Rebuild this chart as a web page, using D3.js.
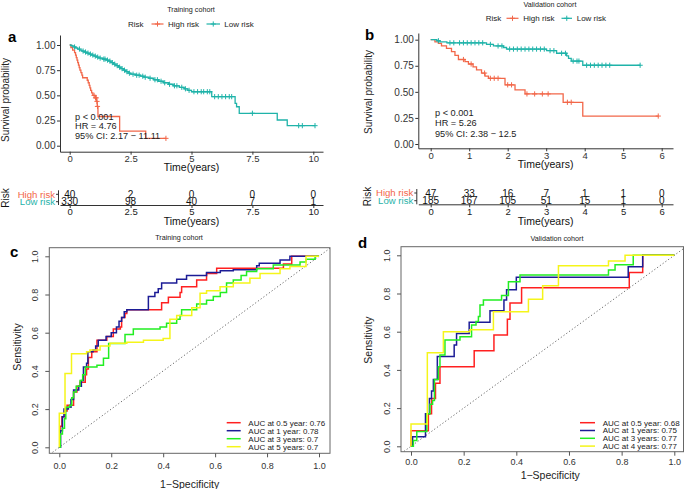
<!DOCTYPE html>
<html><head><meta charset="utf-8">
<script src="https://cdn.jsdelivr.net/npm/d3@7"></script>
<style>body{margin:0;background:#fff}</style>
</head><body><script>
// ---------------- DATA ----------------
// Panel a (training cohort KM)
const trainHighTime = [0,0.05,0.12,0.2,0.24,0.27,0.3,0.33,0.36,0.39,0.42,0.46,0.5,0.53,0.72,0.76,0.8,0.83,0.86,0.9,0.95,1.04,1.1,1.13,1.16,2.05,3.12,3.95];
const trainHighSurv = [1,0.975,0.95,0.925,0.9,0.875,0.85,0.825,0.8,0.775,0.75,0.725,0.7,0.675,0.65,0.625,0.6,0.575,0.55,0.525,0.5,0.475,0.44,0.39,0.29,0.145,0.073,0.073];
const trainHighCens = [1.0,1.06,1.09,1.12,1.14,3.95];
const trainLowTime = [0,0.05,0.1,0.18,0.25,0.33,0.42,0.5,0.6,0.7,0.8,0.9,1.0,1.1,1.2,1.35,1.5,1.6,1.7,1.8,1.9,2.0,2.1,2.2,2.3,2.4,2.5,2.7,2.9,3.05,3.25,3.45,3.65,3.85,4.05,4.25,4.5,4.7,4.85,5.0,5.83,6.79,6.85,6.96,8.52,8.93,10.07];
const trainLowSurv = [1,0.995,0.99,0.98,0.97,0.96,0.95,0.94,0.93,0.92,0.91,0.9,0.89,0.88,0.87,0.86,0.85,0.84,0.825,0.81,0.795,0.78,0.765,0.75,0.735,0.72,0.71,0.7,0.69,0.68,0.67,0.655,0.64,0.625,0.61,0.595,0.58,0.565,0.55,0.536,0.487,0.42,0.387,0.322,0.255,0.199,0.199];
const trainLowCens = [0.2,0.4,0.55,0.65,0.75,0.85,0.95,1.05,1.15,1.25,1.4,1.45,1.55,1.65,1.75,1.85,1.95,2.05,2.15,2.25,2.35,2.45,2.6,2.75,2.85,3.0,3.1,3.3,3.5,3.6,3.75,3.9,4.1,4.3,4.4,4.6,4.75,4.9,5.1,5.25,5.4,5.5,5.65,5.75,5.95,6.1,6.25,6.4,6.55,6.65,7.5,9.4,9.55,10.07];
const trainTimeTicks = [0,2.5,5,7.5,10];
const trainRiskHigh = [40,2,0,0,0];
const trainRiskLow = [330,98,40,7,1];
const trainStats = ["p < 0.001","HR = 4.76","95% CI: 2.17 \u2212 11.11"];

// Panel b (validation cohort KM)
const validHighTime = [0,0.11,0.2,0.28,0.41,0.54,0.63,0.72,0.89,0.98,1.1,1.19,1.32,1.41,1.5,1.93,2.19,2.45,3.44,3.95,5.91];
const validHighSurv = [1,0.98,0.965,0.94,0.917,0.885,0.85,0.81,0.79,0.767,0.74,0.71,0.68,0.65,0.63,0.567,0.518,0.48,0.40,0.268,0.268];
const validHighCens = [0.85,1.05,1.4,1.55,1.65,1.75,2.0,2.1,2.5,2.7,2.9,3.05,3.55,3.65,5.91];
const validLowTime = [0,0.16,0.24,0.42,1.45,1.63,1.89,1.97,3.01,3.27,3.53,3.58,3.65,3.95,5.44];
const validLowSurv = [1,0.99,0.98,0.97,0.955,0.94,0.925,0.91,0.895,0.87,0.845,0.82,0.795,0.755,0.755];
const validLowCens = [0.2,0.5,0.6,0.75,0.85,0.95,1.05,1.15,1.25,1.35,1.55,1.75,1.85,2.05,2.15,2.25,2.35,2.45,2.55,2.65,2.75,2.85,2.95,3.1,3.2,3.4,3.5,3.7,3.8,3.85,4.05,4.15,4.25,4.35,4.45,4.55,4.65,5.44];
const validTimeTicks = [0,1,2,3,4,5,6];
const validRiskHigh = [47,33,16,7,1,1,0];
const validRiskLow = [185,167,105,51,15,1,0];
const validStats = ["p < 0.001","HR = 5.26","95% CI: 2.38 \u2212 12.5"];

const survTicks = [0,0.25,0.5,0.75,1];
const riskGroups = ["High risk","Low risk"];

// Panel c (training ROC)
const trainRoc05 = [[0,0],[0.003,0.11],[0.01,0.16],[0.022,0.19],[0.03,0.22],[0.055,0.29],[0.068,0.32],[0.08,0.34],[0.1,0.38],[0.105,0.41],[0.112,0.47],[0.125,0.5],[0.145,0.56],[0.183,0.58],[0.208,0.62],[0.235,0.63],[0.24,0.68],[0.253,0.7],[0.26,0.72],[0.394,0.757],[0.42,0.785],[0.465,0.81],[0.471,0.84],[0.529,0.876],[0.567,0.91],[0.606,0.937],[0.863,0.96],[0.895,1.0],[1,1]];
const trainRoc1 = [[0,0],[0.005,0.087],[0.012,0.16],[0.018,0.2],[0.035,0.21],[0.045,0.25],[0.055,0.3],[0.075,0.32],[0.085,0.35],[0.093,0.42],[0.105,0.44],[0.11,0.5],[0.13,0.51],[0.14,0.53],[0.15,0.56],[0.18,0.58],[0.2,0.6],[0.22,0.63],[0.23,0.66],[0.24,0.68],[0.25,0.71],[0.26,0.72],[0.343,0.79],[0.368,0.81],[0.381,0.83],[0.394,0.86],[0.452,0.88],[0.49,0.9],[0.567,0.915],[0.62,0.925],[0.67,0.93],[0.76,0.95],[0.77,0.963],[0.85,0.98],[0.888,1.0],[1,1]];
const trainRoc3 = [[0,0],[0.004,0.07],[0.012,0.1],[0.02,0.15],[0.025,0.21],[0.04,0.22],[0.048,0.26],[0.055,0.29],[0.065,0.32],[0.08,0.35],[0.09,0.38],[0.1,0.42],[0.145,0.43],[0.17,0.466],[0.19,0.544],[0.253,0.59],[0.285,0.62],[0.388,0.63],[0.413,0.65],[0.452,0.67],[0.465,0.69],[0.471,0.72],[0.529,0.75],[0.567,0.77],[0.593,0.79],[0.62,0.81],[0.644,0.86],[0.67,0.876],[0.7,0.9],[0.721,0.92],[0.76,0.935],[0.824,0.955],[0.927,0.97],[0.95,0.985],[0.985,1.0],[1,1]];
const trainRoc5 = [[0,0],[0,0.178],[0.022,0.387],[0.047,0.49],[0.105,0.5],[0.118,0.51],[0.157,0.53],[0.195,0.545],[0.26,0.55],[0.324,0.56],[0.4,0.57],[0.426,0.67],[0.452,0.69],[0.51,0.73],[0.542,0.806],[0.567,0.82],[0.619,0.84],[0.67,0.86],[0.734,0.885],[0.773,0.91],[0.85,0.935],[0.888,0.946],[0.95,1.0],[1,1]];
const trainRocLabels = ["AUC at 0.5 year: 0.76","AUC at 1 year: 0.78","AUC at 3 years: 0.7","AUC at 5 years: 0.7"];

// Panel d (validation ROC)
const validRoc05 = [[0,0],[0,0.082],[0.066,0.17],[0.078,0.25],[0.093,0.33],[0.11,0.417],[0.24,0.5],[0.315,0.583],[0.366,0.665],[0.376,0.75],[0.42,0.83],[0.829,0.91],[0.88,1.0],[1,1]];
const validRoc1 = [[0,0],[0.006,0.05],[0.055,0.17],[0.07,0.25],[0.078,0.29],[0.085,0.35],[0.1,0.47],[0.164,0.53],[0.173,0.59],[0.221,0.65],[0.3,0.71],[0.353,0.766],[0.363,0.82],[0.4,0.885],[0.825,0.94],[0.88,1.0],[1,1]];
const validRoc3 = [[0,0],[0.009,0.03],[0.022,0.077],[0.06,0.17],[0.072,0.22],[0.082,0.24],[0.089,0.35],[0.104,0.417],[0.11,0.478],[0.129,0.557],[0.186,0.574],[0.23,0.635],[0.247,0.653],[0.256,0.68],[0.262,0.74],[0.275,0.766],[0.344,0.79],[0.37,0.862],[0.414,0.897],[0.75,0.923],[0.775,0.95],[0.844,1.0],[1,1]];
const validRoc4 = [[0,0],[0,0.117],[0.062,0.49],[0.123,0.6],[0.224,0.61],[0.313,0.705],[0.446,0.77],[0.5,0.84],[0.56,0.945],[0.75,0.97],[0.813,1.0],[1,1]];
const validRocLabels = ["AUC at 0.5 year: 0.68","AUC at 1 years: 0.75","AUC at 3 years: 0.77","AUC at 4 years: 0.77"];

const rocTicks = [0,0.2,0.4,0.6,0.8,1.0];
const rocColors = ["#FF2020","#1C1C96","#22EE22","#F5F51A"];
const kmRed = "#F26749", kmTeal = "#1FB3A9";

// ---------------- DRAW ----------------
const FONT = "'Liberation Sans', Arial, Helvetica, sans-serif";
const svg = d3.select("body").append("svg").attr("width",685).attr("height",489)
  .style("font-family",FONT);

function text(x,y,s,o={}) {
  const t = svg.append("text").attr("x",x).attr("y",y).text(s)
    .attr("font-size",o.size||10).attr("fill",o.fill||"#000")
    .attr("text-anchor",o.anchor||"start");
  if (o.weight) t.attr("font-weight",o.weight);
  if (o.rotate) t.attr("transform",`rotate(-90,${x},${y})`);
  if (o.dy) t.attr("dy",o.dy);
  return t;
}
function survAt(times,surv,t){let s=surv[0];for(let i=0;i<times.length;i++){if(times[i]<=t)s=surv[i];}return s;}
const plusPath = "M-2.6,0H2.6M0,-2.6V2.6";

function kmPanel(o){
  const x = d3.scaleLinear().domain(o.xd).range(o.xr);
  const y = d3.scaleLinear().domain([0,1]).range(o.yr);
  const xa = x.copy().domain([x.invert(o.axX), x.invert(o.axRight)]).range([o.axX,o.axRight]);
  const ya = y.copy().domain([y.invert(o.axY), y.invert(o.axTop)]).range([o.axY,o.axTop]);
  const g = svg.append("g");
  // axes
  const yAxis = g.append("g").attr("transform",`translate(${o.axX},0)`)
    .call(d3.axisLeft(ya).tickValues(survTicks).tickFormat(d3.format(".2f")).tickSize(3).tickPadding(1.5).tickSizeOuter(0));
  const xAxis = g.append("g").attr("transform",`translate(0,${o.axY})`)
    .call(d3.axisBottom(xa).tickValues(o.ticks).tickFormat(d=>String(d)).tickSize(3).tickPadding(0.5).tickSizeOuter(0));
  [yAxis,xAxis].forEach(a=>{a.selectAll("path,line").attr("stroke","#333");a.selectAll("text").attr("font-size",10).attr("fill","#333").attr("font-family",FONT);});
  xAxis.selectAll("text").attr("font-size",9.5);
  // curves
  const line = d3.line().x(d=>x(d[0])).y(d=>y(d[1])).curve(d3.curveStepAfter);
  o.series.forEach(s=>{
    g.append("path").datum(d3.zip(s.t,s.s)).attr("d",line).attr("fill","none").attr("stroke",s.c).attr("stroke-width",1.3);
    g.selectAll(null).data(s.cens).enter().append("path").attr("d",plusPath)
      .attr("transform",d=>`translate(${x(d)},${y(survAt(s.t,s.s,d))})`).attr("stroke",s.c).attr("stroke-width",1);
  });
  // stats text
  o.stats.forEach((s,i)=>text(o.statsX,o.statsY[i],s,{size:9.2,fill:"#222"}));
  // y label
  text(o.ylabX,o.ylabY,"Survival probability",{size:10,rotate:true,anchor:"middle",fill:"#222"});
  text((o.axX+o.axRight)/2,o.xtitleY,"Time(years)",{size:10.5,anchor:"middle",fill:"#111"});
  // title & legend
  text(o.titleX,o.titleY,o.title,{size:7.2,anchor:"middle",fill:"#222"});
  text(o.leg.risk,o.leg.y+3,"Risk",{size:8,fill:"#222"});
  o.series.forEach((s,i)=>{
    const l0=o.leg.lines[i][0], l1=o.leg.lines[i][1];
    g.append("line").attr("x1",l0).attr("x2",l1).attr("y1",o.leg.y).attr("y2",o.leg.y).attr("stroke",s.c).attr("stroke-width",1.2);
    g.append("path").attr("d",plusPath).attr("transform",`translate(${(l0+l1)/2},${o.leg.y})`).attr("stroke",s.c);
    text(o.leg.texts[i],o.leg.y+3,riskGroups[i],{size:8,fill:"#222"});
  });
  // risk table
  const rt=o.risk;
  const rx = d3.axisBottom(xa).tickValues(o.ticks).tickFormat(d=>String(d)).tickSize(3).tickPadding(0.5).tickSizeOuter(0);
  const rxa = g.append("g").attr("transform",`translate(0,${rt.axisY})`).call(rx);
  rxa.selectAll("path,line").attr("stroke","#333");
  rxa.selectAll("text").attr("font-size",9.5).attr("fill","#222").attr("font-family",FONT);
  g.append("line").attr("x1",o.axX-1.5).attr("x2",o.axX-1.5).attr("y1",rt.rows[0]-4).attr("y2",rt.axisY).attr("stroke","#333");
  rt.rows.forEach((ry,i)=>{
    g.append("line").attr("x1",o.axX-4).attr("x2",o.axX-1.5).attr("y1",ry).attr("y2",ry).attr("stroke","#333");
    text(o.axX-5,ry+3.3,riskGroups[i],{size:9.6,anchor:"end",fill:o.series[i].c});
    rt.vals[i].forEach((v,j)=>text(x(o.ticks[j]),ry+3.5,String(v),{size:10,anchor:"middle",fill:"#111"}));
  });
  text(rt.riskX,rt.riskY,"Risk",{size:10,rotate:true,anchor:"middle",fill:"#111"});
  text((o.axX+o.axRight)/2,rt.titleY,"Time(years)",{size:10.5,anchor:"middle",fill:"#111"});
}

kmPanel({
  xd:[0,10], xr:[69.7,313.3], yr:[145.7,45], axX:60, axY:151.7, axTop:35, axRight:323,
  ticks:trainTimeTicks,
  series:[{t:trainHighTime,s:trainHighSurv,cens:trainHighCens,c:kmRed},{t:trainLowTime,s:trainLowSurv,cens:trainLowCens,c:kmTeal}],
  stats:trainStats, statsX:75, statsY:[120,129.3,139],
  ylabX:9, ylabY:100, xtitleY:170.5,
  title:"Training cohort", titleX:191, titleY:12,
  leg:{y:24, risk:128, lines:[[151.5,163.5],[206.5,220]], texts:[168,224.3]},
  risk:{rows:[194.3,201.7], axisY:205, vals:[trainRiskHigh,trainRiskLow], riskX:8.5, riskY:198, titleY:225}
});
kmPanel({
  xd:[0,6], xr:[430.7,661.7], yr:[144,39.7], axX:418.3, axY:148.3, axTop:33, axRight:673,
  ticks:validTimeTicks,
  series:[{t:validHighTime,s:validHighSurv,cens:validHighCens,c:kmRed},{t:validLowTime,s:validLowSurv,cens:validLowCens,c:kmTeal}],
  stats:validStats, statsX:435, statsY:[116,126,136.6],
  ylabX:371.5, ylabY:92, xtitleY:167.5,
  title:"Validation cohort", titleX:550, titleY:7,
  leg:{y:18.3, risk:485.7, lines:[[506.5,518.5],[561.5,572]], texts:[523.3,576.7]},
  risk:{rows:[193,200.7], axisY:204.3, vals:[validRiskHigh,validRiskLow], riskX:371, riskY:196.5, titleY:224.5}
});

function rocPanel(o){
  const x = d3.scaleLinear().domain([0,1]).range(o.xr);
  const y = d3.scaleLinear().domain([0,1]).range(o.yr);
  const [bx0,by0,bx1,by1] = o.box;
  svg.append("clipPath").attr("id",o.id).append("rect").attr("x",bx0).attr("y",by0).attr("width",bx1-bx0).attr("height",by1-by0);
  const g = svg.append("g");
  g.append("line").attr("x1",x(-0.1)).attr("y1",y(-0.1)).attr("x2",x(1.1)).attr("y2",y(1.1))
    .attr("stroke","#666").attr("stroke-width",1).attr("stroke-dasharray","1.2,2.2").attr("clip-path",`url(#${o.id})`);
  const line = d3.line().x(d=>x(d[0])).y(d=>y(d[1])).curve(d3.curveStepAfter);
  o.curves.forEach((c,i)=>{
    g.append("path").datum(c).attr("d",line).attr("fill","none").attr("stroke",rocColors[i]).attr("stroke-width",1.5).attr("clip-path",`url(#${o.id})`);
  });
  g.append("rect").attr("x",bx0).attr("y",by0).attr("width",bx1-bx0).attr("height",by1-by0).attr("fill","none").attr("stroke","#666").attr("stroke-width",1);
  const xA = g.append("g").attr("transform",`translate(0,${by1})`)
    .call(d3.axisBottom(x).tickValues(rocTicks).tickFormat(d3.format(".1f")).tickSize(4).tickPadding(o.xpad).tickSizeOuter(0));
  xA.select(".domain").remove();
  const yA = g.append("g").attr("transform",`translate(${bx0},0)`)
    .call(d3.axisLeft(y).tickValues(rocTicks).tickFormat(d3.format(".1f")).tickSize(4).tickSizeOuter(0));
  yA.select(".domain").remove();
  yA.selectAll("text").attr("x",0).attr("y",-o.ypad).attr("dy",0).attr("text-anchor","middle").attr("transform","rotate(-90)");
  [xA,yA].forEach(a=>{a.selectAll("line").attr("stroke","#555");a.selectAll("text").attr("font-size",9).attr("fill","#333").attr("font-family",FONT);});
  text((bx0+bx1)/2 + o.xlabDx, o.xlabY, "1\u2212Specificity",{size:10.5,anchor:"middle",fill:"#222"});
  text(o.ylabX, o.ylabY, "Sensitivity",{size:10.5,anchor:"middle",rotate:true,fill:"#222"});
  text(o.titleX,o.titleY,o.title,{size:7.2,anchor:"middle",fill:"#222"});
  o.labels.forEach((s,i)=>{
    const ly=o.leg.y0+i*o.leg.dy;
    g.append("line").attr("x1",o.leg.l0).attr("x2",o.leg.l1).attr("y1",ly).attr("y2",ly).attr("stroke",rocColors[i]).attr("stroke-width",1.5);
    text(o.leg.tx,ly+2.9,s,{size:8,fill:"#222"});
  });
}

rocPanel({
  id:"clipc", xr:[59.3,319], yr:[447.3,256.3], box:[49.3,247.7,330,453.3],
  curves:[trainRoc05,trainRoc1,trainRoc3,trainRoc5], labels:trainRocLabels,
  xpad:5, ypad:11, xlabY:488, xlabDx:0, ylabX:21, ylabY:347,
  title:"Training cohort", titleX:179, titleY:240,
  leg:{y0:422.7, dy:8, l0:226.7, l1:240.7, tx:248.3}
});
rocPanel({
  id:"clipd", xr:[411,674.3], yr:[446.3,255.3], box:[401,246.7,683.5,451.7],
  curves:[validRoc05,validRoc1,validRoc3,validRoc4], labels:validRocLabels,
  xpad:2.5, ypad:11.5, xlabY:479, xlabDx:8, ylabX:372, ylabY:340,
  title:"Validation cohort", titleX:557, titleY:241,
  leg:{y0:422.7, dy:7.8, l0:580, l1:595, tx:602.7}
});

// panel letters
text(8,42,"a",{size:15,weight:"bold"});
text(365,40,"b",{size:15,weight:"bold"});
text(10,257,"c",{size:15,weight:"bold"});
text(358,248,"d",{size:15,weight:"bold"});
</script></body></html>
